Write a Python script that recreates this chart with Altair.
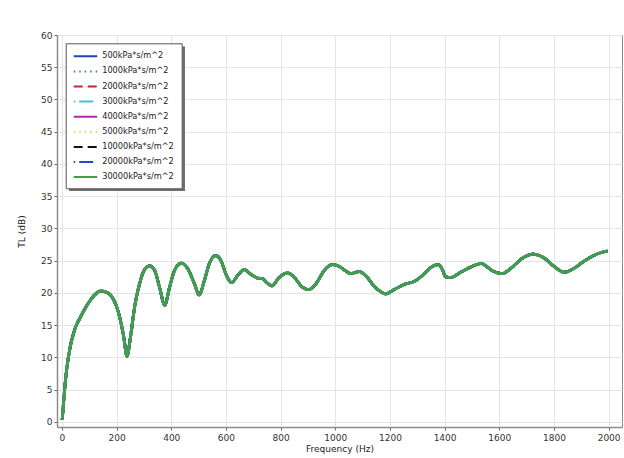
import altair as alt
import pandas as pd

# ---- data ----
series = ["500kPa*s/m^2", "1000kPa*s/m^2", "2000kPa*s/m^2", "3000kPa*s/m^2",
          "4000kPa*s/m^2", "5000kPa*s/m^2", "10000kPa*s/m^2", "20000kPa*s/m^2",
          "30000kPa*s/m^2"]
colors = ["#1f3fbf", "#2e9a3e", "#c0282b", "#3cc8c8", "#b02ab0", "#f0cc40",
          "#111111", "#2050c0", "#3f9f4f"]
dashes = [[1, 0], [1.5, 4], [9, 5], [1.5, 4, 14, 4], [1, 0], [1.5, 4], [9, 5],
          [1.5, 4, 14, 4], [1, 0]]

freq = [1, 6, 12, 18, 28, 46, 71, 95, 120, 141, 168, 193, 211, 226, 238, 251, 266,
        284, 302, 321, 339, 357, 376, 394, 412, 437, 461, 485, 502, 521, 539, 563,
        582, 600, 621, 643, 667, 691, 716, 734, 752, 768, 795, 826, 850, 880, 902,
        929, 960, 990, 1015, 1035, 1056, 1087, 1117, 1141, 1166, 1184, 1215, 1251,
        1294, 1324, 1355, 1377, 1391, 1404, 1422, 1459, 1495, 1535, 1550, 1578,
        1611, 1645, 1682, 1724, 1761, 1798, 1838, 1877, 1913, 1962, 1996]
tl = [0.3, 3.0, 6.0, 8.3, 11.1, 14.2, 16.5, 18.3, 19.7, 20.3, 20.0, 18.6, 16.3,
      13.2, 10.2, 13.2, 17.8, 21.4, 23.6, 24.2, 23.5, 20.9, 18.1, 20.9, 23.5, 24.6,
      23.7, 21.4, 19.7, 21.9, 24.5, 25.8, 25.0, 22.9, 21.6, 22.7, 23.6, 22.9, 22.3,
      22.2, 21.5, 21.1, 22.4, 23.1, 22.4, 20.9, 20.5, 21.4, 23.5, 24.4, 24.1, 23.5,
      23.0, 23.3, 22.4, 21.1, 20.2, 19.85, 20.5, 21.3, 21.9, 22.9, 24.1, 24.4, 23.7,
      22.5, 22.4, 23.2, 24.0, 24.55, 24.2, 23.35, 23.0, 23.9, 25.3, 26.0, 25.5,
      24.2, 23.2, 23.9, 25.0, 26.1, 26.5]

x_ticks = list(range(0, 2001, 200))
y_ticks = list(range(0, 61, 5))

rows = []
for s in series:
    for f, v in zip(freq, tl):
        rows.append({"series": s, "freq": f, "tl": v})
df = pd.DataFrame(rows)
df_top = df[df["series"] == series[-1]]

FONT = "DejaVu Sans"

x_enc = alt.X("freq:Q", scale=alt.Scale(domain=[-18, 2049], nice=False, zero=False),
              axis=alt.Axis(values=x_ticks, title="Frequency (Hz)", grid=True,
                            format="d", tickSize=3, labelPadding=3, titlePadding=2))
y_enc = alt.Y("tl:Q", scale=alt.Scale(domain=[-0.8, 60], nice=False, zero=False),
              axis=alt.Axis(values=y_ticks, title="TL (dB)", grid=True, format="d",
                            tickSize=3, labelPadding=2, titlePadding=14))

leg = dict(orient="none", legendX=8.7, legendY=8.3, fillColor="white",
           strokeColor="#555555", padding=7)
color_enc = alt.Color("series:N", sort=series,
                      scale=alt.Scale(domain=series, range=colors), title=None,
                      legend=alt.Legend(**leg))
dash_enc = alt.StrokeDash("series:N", sort=series,
                          scale=alt.Scale(domain=series, range=dashes), title=None,
                          legend=alt.Legend(**leg))

# drop shadow behind the legend box (decoration only)
shadow = alt.Chart(pd.DataFrame({"k": [0]})).mark_rect(color="#707070").encode(
    x=alt.value(12), x2=alt.value(128), y=alt.value(11.5), y2=alt.value(156))

lines = alt.Chart(df).mark_line(strokeWidth=2.8, interpolate="monotone").encode(
    x=x_enc, y=y_enc, color=color_enc, strokeDash=dash_enc)

top = alt.Chart(df_top).mark_line(strokeWidth=2.8, interpolate="monotone",
                                  color=colors[-1]).encode(x=x_enc, y=y_enc)

chart = alt.layer(lines, top, shadow).properties(
    width=565, height=392,
    padding={"left": 57, "top": 35, "right": 2, "bottom": 31},
    autosize=alt.AutoSizeParams(type="none"),
).configure(
    font=FONT
).configure_view(
    stroke="#8c8c8c", strokeWidth=1
).configure_axis(
    labelFont=FONT, titleFont=FONT, labelFontSize=9, titleFontSize=9,
    labelColor="#333333", titleColor="#222222", titleFontWeight="normal",
    gridColor="#e4e4e4", gridWidth=1, domainColor="#8c8c8c", domainWidth=1.5,
    tickColor="#666666",
).configure_legend(
    labelFont=FONT, labelFontSize=8.2, labelColor="#222222",
    symbolType="M-1,0H3.7", symbolSize=100, symbolStrokeWidth=2,
    labelOffset=17.5, rowPadding=5.1,
)

chart.save("out.html", embed_options={"renderer": "svg", "actions": False})
